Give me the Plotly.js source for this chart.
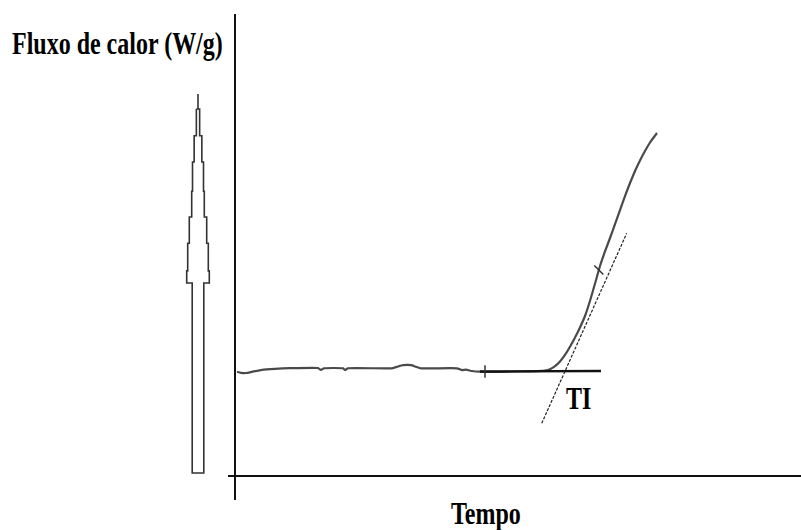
<!DOCTYPE html>
<html>
<head>
<meta charset="utf-8">
<script src="https://cdn.plot.ly/plotly-3.0.1.min.js"></script>
<style>
  html, body { margin: 0; padding: 0; background: #fff; }
  #chart { width: 801px; height: 530px; }
  /* tall, narrow serif lettering */
  .annotation-text {
    transform-box: fill-box;
    transform-origin: 50% 50%;
    transform: scaleY(1.29);
  }
</style>
</head>
<body>
<div id="chart"></div>
<script>
// DSC-style heat-flow trace (arbitrary time / flux units)
const tempo = [0.35, 1.05, 1.92, 2.97, 4.71, 6.98, 9.60, 14.49, 15.01, 15.53, 18.85, 19.20, 19.72,
  27.40, 28.45, 29.32, 30.72, 31.59, 32.46, 38.74, 39.62, 40.31, 41.36, 42.76, 49.74,
  54.10, 54.97, 55.85, 56.72, 57.59, 58.46, 59.34, 60.21, 61.08, 61.95, 62.83, 63.70, 64.57,
  65.45, 66.32, 67.19, 68.06, 68.94, 69.81, 70.68, 71.55, 72.43, 73.12, 73.65];
const fluxo = [21.46, 21.23, 21.19, 21.44, 21.85, 22.06, 22.18, 22.22, 21.81, 22.16, 22.16, 21.81, 22.16,
  22.16, 22.53, 22.80, 22.80, 22.47, 22.16, 22.16, 21.77, 21.89, 21.60, 21.46, 21.50,
  21.69, 21.98, 22.59, 23.56, 24.90, 26.58, 28.50, 30.56, 32.92, 36.01, 39.60, 43.21, 46.20,
  48.97, 51.85, 54.73, 57.61, 60.29, 62.76, 64.92, 66.87, 68.62, 69.75, 70.58];

// extrapolated baseline and inflection tangent used to read the onset (TI)
const baseX = [42.76, 63.87];
const baseY = [21.50, 21.60];
const tangX = [53.53, 68.36];
const tangY = [10.84, 49.94];

// small construction ticks on the trace
const tickX = [43.63, 63.50];
const tickY = [21.50, 42.40];
const tickSym = ['line-ns', 'line-nw'];

// onset label
const onsetLabel = 'TI';
const onsetX = 59.86;
const onsetY = 15.95;

// hollow stepped arrow pointing up (direction of increasing heat flow)
const arrowX = [-1.65, -1.65, -3.85, -3.85, -5.5, -5.5, -6.3, -6.3, -8.7, -8.7, -10.3, -10.3, -11.3, -11.3,
  -5.8, -5.8, 5.8, 5.8, 11.3, 11.3, 10.3, 10.3, 8.7, 8.7, 6.3, 6.3, 5.5, 5.5, 3.85, 3.85, 1.65, 1.65,
  0, 0, 0, -1.65];
const arrowY = [75.5, 70.0, 70.0, 64.6, 64.6, 58.6, 58.6, 53.3, 53.3, 47.9, 47.9, 42.2, 42.2, 39.7,
  39.7, 0.62, 0.62, 39.7, 39.7, 42.2, 42.2, 47.9, 47.9, 53.3, 53.3, 58.6, 58.6, 64.6, 64.6, 70.0, 70.0, 75.5,
  75.5, 78.6, 75.5, 75.5];

const yTitle = 'Fluxo de calor (W/g)';
const xTitle = 'Tempo';

const textFont = { family: '"Liberation Serif", "Times New Roman", serif', size: 24, color: '#000', weight: 'bold' };

const traces = [
  { x: tempo, y: fluxo, type: 'scatter', mode: 'lines',
    line: { color: '#4a4a4a', width: 2.2, shape: 'spline', smoothing: 0.4 }, hoverinfo: 'skip' },
  { x: baseX, y: baseY, type: 'scatter', mode: 'lines',
    line: { color: '#111', width: 2.4 }, hoverinfo: 'skip' },
  { x: tangX, y: tangY, type: 'scatter', mode: 'lines',
    line: { color: '#222', width: 1.2, dash: '3px,1.5px' }, hoverinfo: 'skip' },
  { x: tickX, y: tickY, type: 'scatter', mode: 'markers',
    marker: { symbol: tickSym, size: 9, line: { color: '#333', width: 1.5 } }, hoverinfo: 'skip' },
  { x: arrowX, y: arrowY, xaxis: 'x2', yaxis: 'y2', type: 'scatter', mode: 'lines',
    line: { color: '#333', width: 1.6 }, hoverinfo: 'skip' }
];

const hidden = { showgrid: false, zeroline: false, showticklabels: false, ticks: '', showline: false };
const yRange = [-4.938, 95.062];

const layout = {
  width: 801, height: 530,
  margin: { l: 0, r: 0, t: 14, b: 30 },
  paper_bgcolor: '#fff', plot_bgcolor: '#fff',
  showlegend: false,
  xaxis: Object.assign({}, hidden, {
    domain: [228 / 801, 1], range: [-1.2216, 98.778], anchor: 'y',
    zeroline: true, zerolinecolor: '#111', zerolinewidth: 2
  }),
  yaxis: Object.assign({}, hidden, {
    domain: [0, 1], range: yRange, anchor: 'x',
    zeroline: true, zerolinecolor: '#111', zerolinewidth: 2
  }),
  xaxis2: Object.assign({}, hidden, {
    domain: [0, 228 / 801], range: [-198, 30], anchor: 'y2'
  }),
  yaxis2: Object.assign({}, hidden, {
    domain: [0, 1], range: yRange, anchor: 'x2'
  }),
  annotations: [
    { text: yTitle, xref: 'paper', yref: 'paper', x: 117.4 / 801, y: (500 - 43) / 486,
      xanchor: 'center', yanchor: 'middle', showarrow: false, font: textFont },
    { text: xTitle, xref: 'paper', yref: 'paper', x: 485.5 / 801, y: (500 - 513.3) / 486,
      xanchor: 'center', yanchor: 'middle', showarrow: false, font: textFont },
    { text: onsetLabel, xref: 'x', yref: 'y', x: onsetX, y: onsetY,
      xanchor: 'center', yanchor: 'middle', showarrow: false, font: textFont }
  ]
};

Plotly.newPlot('chart', traces, layout, { staticPlot: true, displayModeBar: false });
</script>
</body>
</html>
